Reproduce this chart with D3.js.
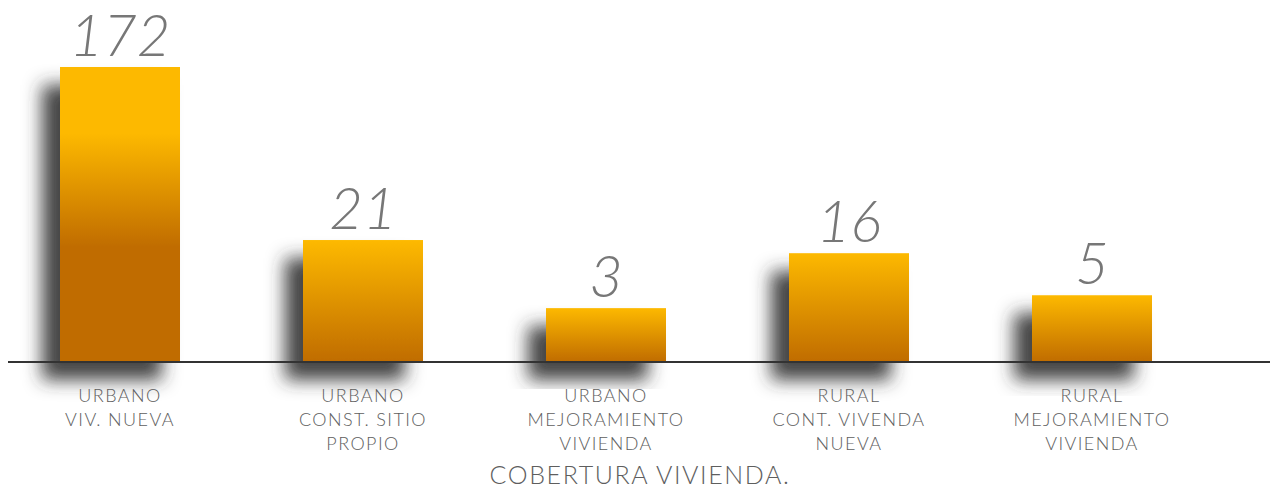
<!DOCTYPE html>
<html>
<head>
<meta charset="utf-8">
<script src="https://cdn.jsdelivr.net/npm/d3@7"></script>
<style>
  body { margin: 0; background: #fff; }
  svg { display: block; }
</style>
</head>
<body>
<div id="chart-container"></div>
<script>
// Chart data
const categories = ['URBANO|VIV. NUEVA', 'URBANO|CONST. SITIO|PROPIO', 'URBANO|MEJORAMIENTO|VIVIENDA', 'RURAL|CONT. VIVENDA|NUEVA', 'RURAL|MEJORAMIENTO|VIVIENDA'];
const values = [172, 21, 3, 16, 5];
const chartTitle = 'COBERTURA VIVIENDA.';

// Dimensions
const width = 1270;
const height = 490;
const baseY = 362;
const barWidth = 120;

const svg = d3.select('#chart-container')
  .append('svg')
  .attr('width', width)
  .attr('height', height);

const defs = svg.append('defs');

// soft shadow thrown down-left
const filter = defs.append('filter')
  .attr('id', 'shadow')
  .attr('x', '-60%').attr('y', '-40%')
  .attr('width', '200%').attr('height', '190%');
filter.append('feDropShadow')
  .attr('dx', -18).attr('dy', 18)
  .attr('stdDeviation', 9)
  .attr('flood-color', '#333')
  .attr('flood-opacity', 0.9);

// Scales (the original bars are not linear; a low power curve fits them)
const x = d3.scalePoint()
  .domain(categories)
  .range([120, 1092]);

const y = d3.scalePow()
  .exponent(0.42)
  .domain([0, 172])
  .range([baseY, 67]);

const data = categories.map((c, i) => ({ cat: c, value: values[i] }));

// one gradient per bar: yellow at top fading to dark orange
data.forEach((d, i) => {
  const top = y(d.value);
  const h = baseY - top;
  const g = defs.append('linearGradient')
    .attr('id', 'grad' + i)
    .attr('gradientUnits', 'userSpaceOnUse')
    .attr('x1', 0).attr('x2', 0)
    .attr('y1', top + Math.max(0, (h - 120) * 0.38))
    .attr('y2', top + Math.min(h, 180));
  g.append('stop').attr('offset', 0).attr('stop-color', '#fdb900');
  g.append('stop').attr('offset', 1).attr('stop-color', '#c06c00');
});

// Bars
svg.selectAll('.bar')
  .data(data)
  .enter()
  .append('rect')
  .attr('class', 'bar')
  .attr('x', d => x(d.cat) - barWidth / 2)
  .attr('y', d => y(d.value))
  .attr('width', barWidth)
  .attr('height', d => baseY - y(d.value))
  .attr('fill', (d, i) => `url(#grad${i})`)
  .attr('filter', 'url(#shadow)');

// Baseline
svg.append('line')
  .attr('x1', 8).attr('x2', width)
  .attr('y1', baseY).attr('y2', baseY)
  .attr('stroke', '#333')
  .attr('stroke-width', 2);

// Value labels
svg.selectAll('.value')
  .data(data)
  .enter()
  .append('text')
  .attr('class', 'value')
  .attr('x', d => x(d.cat))
  .attr('y', d => y(d.value) - 11)
  .attr('text-anchor', 'middle')
  .style('font-family', 'Lato, "Open Sans", sans-serif')
  .style('font-style', 'italic')
  .style('font-weight', 300)
  .style('font-size', '58px')
  .style('fill', '#777')
  .text(d => d.value);

// Category labels
const labels = svg.selectAll('.cat')
  .data(data)
  .enter()
  .append('text')
  .attr('class', 'cat')
  .attr('text-anchor', 'middle')
  .style('font-family', 'Lato, "Open Sans", sans-serif')
  .style('font-weight', 300)
  .style('font-size', '18px')
  .style('letter-spacing', '1.4px')
  .style('fill', '#5e5e5e');

labels.selectAll('tspan')
  .data(d => d.cat.split('|').map(t => ({ t, cx: x(d.cat) })))
  .enter()
  .append('tspan')
  .attr('x', d => d.cx)
  .attr('y', (d, i) => 402 + i * 24)
  .text(d => d.t);

// Title
svg.append('text')
  .attr('x', 640)
  .attr('y', 484)
  .attr('text-anchor', 'middle')
  .style('font-family', 'Lato, "Open Sans", sans-serif')
  .style('font-weight', 300)
  .style('font-size', '25px')
  .style('letter-spacing', '1.6px')
  .style('fill', '#5e5e5e')
  .text(chartTitle);
</script>
</body>
</html>
